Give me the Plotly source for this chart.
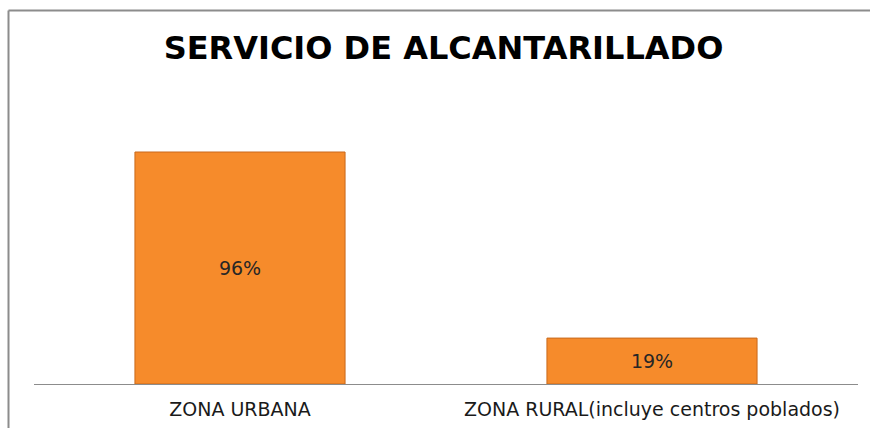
import plotly.graph_objects as go

categories = ["ZONA URBANA", "ZONA RURAL(incluye centros poblados)"]
coverage = [0.96, 0.19]

W, H = 870, 428
ML, MR, MT, MB = 34, 12, 94, 44
pw, ph = W - ML - MR, H - MT - MB


def px_to_paper_x(x):
    return (x - ML) / pw


def px_to_paper_y(y):
    return (H - MB - y) / ph


fig = go.Figure(
    go.Bar(
        x=categories,
        y=coverage,
        width=0.51,
        marker=dict(color="#F68B2B", line=dict(color="#C9691C", width=1)),
        texttemplate="%{y:.0%}",
        textposition="inside",
        insidetextanchor="middle",
        textfont=dict(family="DejaVu Sans", size=19, color="#262626"),
        cliponaxis=False,
    )
)

# outer frame (left and top edges)
frame = dict(color="#8C8C8C", width=2)
fig.add_shape(type="line", xref="paper", yref="paper",
              x0=px_to_paper_x(8.5), x1=px_to_paper_x(8.5),
              y0=px_to_paper_y(10.5), y1=px_to_paper_y(430), line=frame)
fig.add_shape(type="line", xref="paper", yref="paper",
              x0=px_to_paper_x(8.5), x1=px_to_paper_x(872),
              y0=px_to_paper_y(10.5), y1=px_to_paper_y(10.5), line=frame)

fig.update_layout(
    width=W,
    height=H,
    margin=dict(l=ML, r=MR, t=MT, b=MB, autoexpand=False),
    paper_bgcolor="white",
    plot_bgcolor="white",
    showlegend=False,
    title=dict(
        text="SERVICIO DE ALCANTARILLADO",
        x=0.5 * (163 + 724) / W,
        xanchor="center",
        y=1 - 48 / H,
        yanchor="middle",
        yref="container",
        font=dict(family="DejaVu Sans", size=32, color="#000000", weight="bold"),
    ),
    xaxis=dict(
        showline=True,
        linecolor="#8C8C8C",
        linewidth=1,
        ticks="",
        automargin=False,
        ticklabelstandoff=8,
        tickfont=dict(family="DejaVu Sans", size=19, color="#1A1A1A"),
        showgrid=False,
    ),
    yaxis=dict(range=[0, 1.2], visible=False, showgrid=False),
)

fig.write_html("out.html")
